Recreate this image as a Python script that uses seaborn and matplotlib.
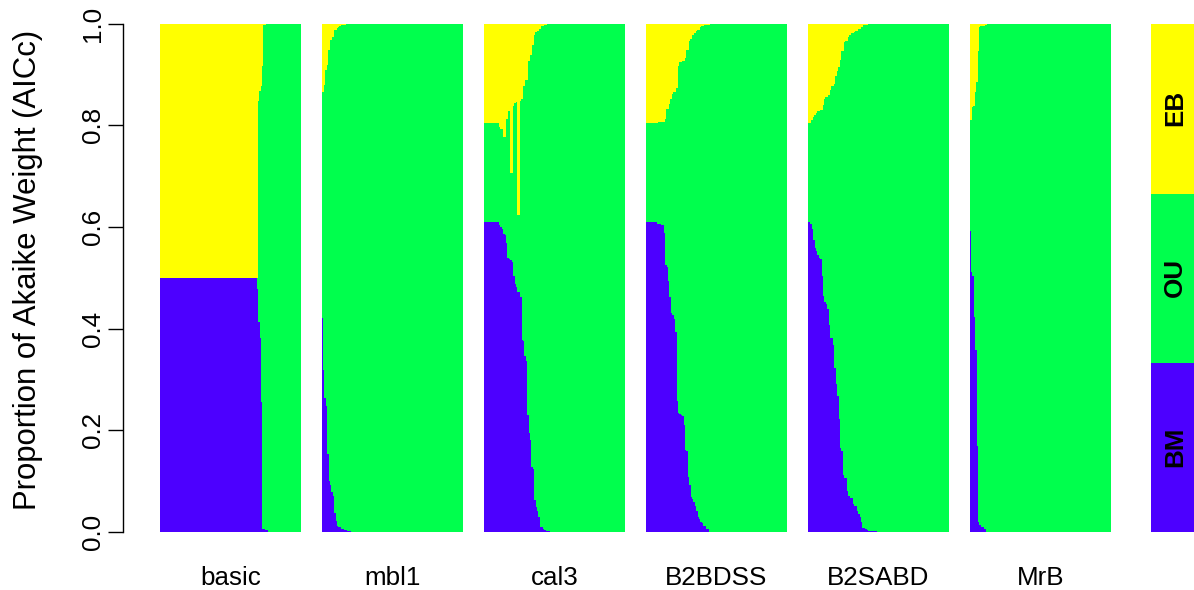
import numpy as np
import pandas as pd
import matplotlib
matplotlib.use("Agg")
import matplotlib.pyplot as plt
import seaborn as sns

sns.set_style("white")
plt.rcParams["font.family"] = ["Liberation Sans", "DejaVu Sans"]
plt.rcParams["text.color"] = "black"
plt.rcParams["axes.labelcolor"] = "black"
plt.rcParams["xtick.color"] = "black"
plt.rcParams["ytick.color"] = "black"

# Akaike weights (AICc) for each of 100 trees per dating treatment,
# trees ordered as in the source analysis. OU weight = 1 - BM - EB.
models = ["BM", "OU", "EB"]
model_colors = {"BM": "#4C00FF", "OU": "#00FF4D", "EB": "#FFFF00"}
tree_sets = ["basic", "mbl1", "cal3", "B2BDSS", "B2SABD", "MrB"]

bm_basic = [
    0.5, 0.5, 0.5, 0.5, 0.5, 0.5, 0.5, 0.5, 0.5, 0.5,
    0.5, 0.5, 0.5, 0.5, 0.5, 0.5, 0.5, 0.5, 0.5, 0.5,
    0.5, 0.5, 0.5, 0.5, 0.5, 0.5, 0.5, 0.5, 0.5, 0.5,
    0.5, 0.5, 0.5, 0.5, 0.5, 0.5, 0.5, 0.5, 0.5, 0.5,
    0.5, 0.5, 0.5, 0.5, 0.5, 0.5, 0.5, 0.5, 0.5, 0.5,
    0.5, 0.5, 0.5, 0.5, 0.5, 0.5, 0.5, 0.5, 0.5, 0.5,
    0.5, 0.5, 0.5, 0.5, 0.5, 0.5, 0.5, 0.5, 0.5, 0.478,
    0.413, 0.383, 0.256, 0.006, 0.006, 0.004, 0.004, 0, 0, 0,
    0, 0, 0, 0, 0, 0, 0, 0, 0, 0,
    0, 0, 0, 0, 0, 0, 0, 0, 0, 0,
]
eb_basic = [
    0.5, 0.5, 0.5, 0.5, 0.5, 0.5, 0.5, 0.5, 0.5, 0.5,
    0.5, 0.5, 0.5, 0.5, 0.5, 0.5, 0.5, 0.5, 0.5, 0.5,
    0.5, 0.5, 0.5, 0.5, 0.5, 0.5, 0.5, 0.5, 0.5, 0.5,
    0.5, 0.5, 0.5, 0.5, 0.5, 0.5, 0.5, 0.5, 0.5, 0.5,
    0.5, 0.5, 0.5, 0.5, 0.5, 0.5, 0.5, 0.5, 0.5, 0.5,
    0.5, 0.5, 0.5, 0.5, 0.5, 0.5, 0.5, 0.5, 0.5, 0.5,
    0.5, 0.5, 0.5, 0.5, 0.5, 0.5, 0.5, 0.5, 0.5, 0.152,
    0.132, 0.122, 0.083, 0.002, 0.002, 0, 0, 0, 0, 0,
    0, 0, 0, 0, 0, 0, 0, 0, 0, 0,
    0, 0, 0, 0, 0, 0, 0, 0, 0, 0,
]

bm_mbl1 = [
    0.421, 0.32, 0.264, 0.249, 0.154, 0.10, 0.092, 0.079, 0.071, 0.037,
    0.023, 0.013, 0.010, 0.010, 0.007, 0.007, 0.005, 0.005, 0.003, 0.003,
    0.003, 0, 0, 0, 0, 0, 0, 0, 0, 0,
    0, 0, 0, 0, 0, 0, 0, 0, 0, 0,
    0, 0, 0, 0, 0, 0, 0, 0, 0, 0,
    0, 0, 0, 0, 0, 0, 0, 0, 0, 0,
    0, 0, 0, 0, 0, 0, 0, 0, 0, 0,
    0, 0, 0, 0, 0, 0, 0, 0, 0, 0,
    0, 0, 0, 0, 0, 0, 0, 0, 0, 0,
    0, 0, 0, 0, 0, 0, 0, 0, 0, 0,
]
eb_mbl1 = [
    0.133, 0.12, 0.09, 0.08, 0.05, 0.031, 0.031, 0.025, 0.012, 0.011,
    0.007, 0.005, 0.004, 0.002, 0.002, 0.002, 0.001, 0, 0, 0,
    0, 0, 0, 0, 0, 0, 0, 0, 0, 0,
    0, 0, 0, 0, 0, 0, 0, 0, 0, 0,
    0, 0, 0, 0, 0, 0, 0, 0, 0, 0,
    0, 0, 0, 0, 0, 0, 0, 0, 0, 0,
    0, 0, 0, 0, 0, 0, 0, 0, 0, 0,
    0, 0, 0, 0, 0, 0, 0, 0, 0, 0,
    0, 0, 0, 0, 0, 0, 0, 0, 0, 0,
    0, 0, 0, 0, 0, 0, 0, 0, 0, 0,
]

bm_cal3 = [
    0.61, 0.61, 0.61, 0.61, 0.61, 0.61, 0.61, 0.61, 0.61, 0.61,
    0.61, 0.604, 0.60, 0.596, 0.587, 0.586, 0.57, 0.539, 0.537, 0.535,
    0.531, 0.504, 0.488, 0.482, 0.472, 0.472, 0.463, 0.379, 0.377, 0.346,
    0.337, 0.23, 0.195, 0.181, 0.128, 0.124, 0.063, 0.049, 0.041, 0.03,
    0.01, 0.01, 0.006, 0.004, 0.002, 0.002, 0.002, 0, 0, 0,
    0, 0, 0, 0, 0, 0, 0, 0, 0, 0,
    0, 0, 0, 0, 0, 0, 0, 0, 0, 0,
    0, 0, 0, 0, 0, 0, 0, 0, 0, 0,
    0, 0, 0, 0, 0, 0, 0, 0, 0, 0,
    0, 0, 0, 0, 0, 0, 0, 0, 0, 0,
]
eb_cal3 = [
    0.195, 0.195, 0.195, 0.195, 0.195, 0.195, 0.195, 0.195, 0.195, 0.195,
    0.195, 0.202, 0.206, 0.19, 0.222, 0.186, 0.186, 0.171, 0.171, 0.293,
    0.161, 0.156, 0.153, 0.153, 0.375, 0.151, 0.147, 0.121, 0.121, 0.109,
    0.109, 0.072, 0.06, 0.06, 0.041, 0.021, 0.016, 0.013, 0.013, 0.01,
    0.004, 0.004, 0.002, 0.002, 0, 0, 0, 0, 0, 0,
    0, 0, 0, 0, 0, 0, 0, 0, 0, 0,
    0, 0, 0, 0, 0, 0, 0, 0, 0, 0,
    0, 0, 0, 0, 0, 0, 0, 0, 0, 0,
    0, 0, 0, 0, 0, 0, 0, 0, 0, 0,
    0, 0, 0, 0, 0, 0, 0, 0, 0, 0,
]

bm_b2bdss = [
    0.61, 0.61, 0.61, 0.61, 0.61, 0.61, 0.61, 0.61, 0.606, 0.606,
    0.606, 0.604, 0.604, 0.589, 0.525, 0.523, 0.494, 0.463, 0.431, 0.427,
    0.419, 0.394, 0.258, 0.234, 0.232, 0.23, 0.228, 0.211, 0.161, 0.159,
    0.108, 0.093, 0.069, 0.065, 0.059, 0.051, 0.041, 0.03, 0.026, 0.02,
    0.018, 0.012, 0.012, 0.006, 0.006, 0, 0, 0, 0, 0,
    0, 0, 0, 0, 0, 0, 0, 0, 0, 0,
    0, 0, 0, 0, 0, 0, 0, 0, 0, 0,
    0, 0, 0, 0, 0, 0, 0, 0, 0, 0,
    0, 0, 0, 0, 0, 0, 0, 0, 0, 0,
    0, 0, 0, 0, 0, 0, 0, 0, 0, 0,
]
eb_b2bdss = [
    0.194, 0.194, 0.194, 0.194, 0.194, 0.194, 0.194, 0.194, 0.192, 0.192,
    0.192, 0.192, 0.192, 0.186, 0.167, 0.167, 0.157, 0.147, 0.137, 0.133,
    0.133, 0.126, 0.082, 0.074, 0.074, 0.072, 0.072, 0.066, 0.05, 0.05,
    0.033, 0.029, 0.021, 0.021, 0.018, 0.014, 0.012, 0.012, 0.006, 0.004,
    0.004, 0.002, 0.002, 0.001, 0.001, 0, 0, 0, 0, 0,
    0, 0, 0, 0, 0, 0, 0, 0, 0, 0,
    0, 0, 0, 0, 0, 0, 0, 0, 0, 0,
    0, 0, 0, 0, 0, 0, 0, 0, 0, 0,
    0, 0, 0, 0, 0, 0, 0, 0, 0, 0,
    0, 0, 0, 0, 0, 0, 0, 0, 0, 0,
]

bm_b2sabd = [
    0.61, 0.61, 0.606, 0.596, 0.575, 0.559, 0.553, 0.545, 0.539, 0.537,
    0.504, 0.465, 0.453, 0.449, 0.439, 0.407, 0.382, 0.382, 0.368, 0.323,
    0.291, 0.268, 0.222, 0.165, 0.159, 0.112, 0.106, 0.106, 0.081, 0.071,
    0.067, 0.067, 0.055, 0.051, 0.051, 0.041, 0.035, 0.03, 0.02, 0.008,
    0.008, 0.006, 0.004, 0.002, 0.002, 0.002, 0.002, 0.002, 0.002, 0,
    0, 0, 0, 0, 0, 0, 0, 0, 0, 0,
    0, 0, 0, 0, 0, 0, 0, 0, 0, 0,
    0, 0, 0, 0, 0, 0, 0, 0, 0, 0,
    0, 0, 0, 0, 0, 0, 0, 0, 0, 0,
    0, 0, 0, 0, 0, 0, 0, 0, 0, 0,
]
eb_b2sabd = [
    0.194, 0.194, 0.188, 0.182, 0.178, 0.174, 0.171, 0.171, 0.169, 0.169,
    0.159, 0.147, 0.143, 0.143, 0.139, 0.129, 0.121, 0.121, 0.117, 0.102,
    0.092, 0.084, 0.07, 0.052, 0.052, 0.035, 0.033, 0.033, 0.025, 0.021,
    0.017, 0.017, 0.015, 0.013, 0.013, 0.009, 0.009, 0.005, 0.005, 0.002,
    0.002, 0.002, 0, 0, 0, 0, 0, 0, 0, 0,
    0, 0, 0, 0, 0, 0, 0, 0, 0, 0,
    0, 0, 0, 0, 0, 0, 0, 0, 0, 0,
    0, 0, 0, 0, 0, 0, 0, 0, 0, 0,
    0, 0, 0, 0, 0, 0, 0, 0, 0, 0,
    0, 0, 0, 0, 0, 0, 0, 0, 0, 0,
]

bm_mrb = [
    0.593, 0.512, 0.504, 0.423, 0.358, 0.169, 0.02, 0.014, 0.01, 0.01,
    0.006, 0.006, 0, 0, 0, 0, 0, 0, 0, 0,
    0, 0, 0, 0, 0, 0, 0, 0, 0, 0,
    0, 0, 0, 0, 0, 0, 0, 0, 0, 0,
    0, 0, 0, 0, 0, 0, 0, 0, 0, 0,
    0, 0, 0, 0, 0, 0, 0, 0, 0, 0,
    0, 0, 0, 0, 0, 0, 0, 0, 0, 0,
    0, 0, 0, 0, 0, 0, 0, 0, 0, 0,
    0, 0, 0, 0, 0, 0, 0, 0, 0, 0,
    0, 0, 0, 0, 0, 0, 0, 0, 0, 0,
]
eb_mrb = [
    0.188, 0.163, 0.161, 0.133, 0.114, 0.052, 0.005, 0.003, 0.003, 0.003,
    0.001, 0.001, 0, 0, 0, 0, 0, 0, 0, 0,
    0, 0, 0, 0, 0, 0, 0, 0, 0, 0,
    0, 0, 0, 0, 0, 0, 0, 0, 0, 0,
    0, 0, 0, 0, 0, 0, 0, 0, 0, 0,
    0, 0, 0, 0, 0, 0, 0, 0, 0, 0,
    0, 0, 0, 0, 0, 0, 0, 0, 0, 0,
    0, 0, 0, 0, 0, 0, 0, 0, 0, 0,
    0, 0, 0, 0, 0, 0, 0, 0, 0, 0,
    0, 0, 0, 0, 0, 0, 0, 0, 0, 0,
]

bm_weights = {"basic": bm_basic, "mbl1": bm_mbl1, "cal3": bm_cal3,
              "B2BDSS": bm_b2bdss, "B2SABD": bm_b2sabd, "MrB": bm_mrb}
eb_weights = {"basic": eb_basic, "mbl1": eb_mbl1, "cal3": eb_cal3,
              "B2BDSS": eb_b2bdss, "B2SABD": eb_b2sabd, "MrB": eb_mrb}

y_ticks = [0.0, 0.2, 0.4, 0.6, 0.8, 1.0]
y_tick_labels = ["0.0", "0.2", "0.4", "0.6", "0.8", "1.0"]
y_label = "Proportion of Akaike Weight (AICc)"

# ---- layout (pixel based) ----
W, H = 1194, 590
fig = plt.figure(figsize=(W / 100, H / 100), dpi=100)
FS = 18.7
FS_LAB = 22.4


def px_axes(x0, x1, y_top, y_bot):
    return fig.add_axes([x0 / W, 1 - y_bot / H, (x1 - x0) / W, (y_bot - y_top) / H])


Y_TOP, Y_BOT = 23.7, 531.7
PANEL_W = 141
panel_left = [160, 322, 484, 646, 808, 970]
AXIS_X = 122.7

stack_order = ["EB", "OU", "BM"]  # last level ends up at the bottom of the stack

for k, name in enumerate(tree_sets):
    bm = np.asarray(bm_weights[name], dtype=float)
    eb = np.asarray(eb_weights[name], dtype=float)
    ou = np.clip(1.0 - bm - eb, 0, None)
    n = len(bm)
    df = pd.DataFrame({
        "tree": np.tile(np.arange(n), 3),
        "model": np.repeat(models, n),
        "weight": np.concatenate([bm, ou, eb]),
    })
    x0 = panel_left[k]
    ax = px_axes(x0, x0 + PANEL_W, Y_TOP, Y_BOT)
    sns.histplot(data=df, x="tree", weights="weight", hue="model",
                 hue_order=stack_order, multiple="stack", discrete=True,
                 shrink=1, palette=model_colors, alpha=1, linewidth=0,
                 edgecolor="none", antialiased=False, snap=False,
                 legend=False, ax=ax)
    ax.set_xlim(-0.5, n - 0.5)
    ax.set_ylim(0, 1)
    ax.set_xlabel("")
    ax.set_ylabel("")
    ax.set_xticks([])
    for s in ["top", "right", "bottom"]:
        ax.spines[s].set_visible(False)
    if k == 0:
        ax.spines["left"].set_position(("axes", -(x0 - AXIS_X) / PANEL_W))
        ax.spines["left"].set_bounds(0, 1)
        ax.spines["left"].set_linewidth(1.0)
        ax.spines["left"].set_color("black")
        ax.set_yticks(y_ticks)
        ax.set_yticklabels(y_tick_labels)
        ax.tick_params(axis="y", length=10.5, width=1.0, direction="out",
                       pad=2, labelsize=FS, colors="black", left=True)
        for lab in ax.get_yticklabels():
            lab.set_rotation(90)
            lab.set_va("center")
            lab.set_ha("right")
    else:
        ax.spines["left"].set_visible(False)
        ax.set_yticks([])
    fig.text((x0 + PANEL_W / 2) / W, 1 - 578 / H, name, ha="center",
             va="center", fontsize=FS, color="black")

fig.text(28 / W, 1 - 270 / H, y_label, rotation=90, ha="center",
         va="center", fontsize=FS_LAB, color="black")

# ---- colour key on the right ----
key_df = pd.DataFrame({"slot": [0, 0, 0], "model": models, "share": [1, 1, 1]})
kax = px_axes(1151.3, 1199, Y_TOP, Y_BOT)
sns.histplot(data=key_df, x="slot", weights="share", hue="model",
             hue_order=stack_order, multiple="fill", discrete=True, shrink=1,
             palette=model_colors, alpha=1, linewidth=0, edgecolor="none",
             antialiased=False, snap=False, legend=False, ax=kax)
kax.set_xlim(-0.5, 0.5)
kax.set_ylim(0, 1)
kax.axis("off")
for j, m in enumerate(models):
    kax.text(0, (j + 0.5) / 3, m, rotation=90, ha="center", va="center",
             fontsize=FS, fontweight="bold", color="black")

fig.savefig("out.png", dpi=100)
